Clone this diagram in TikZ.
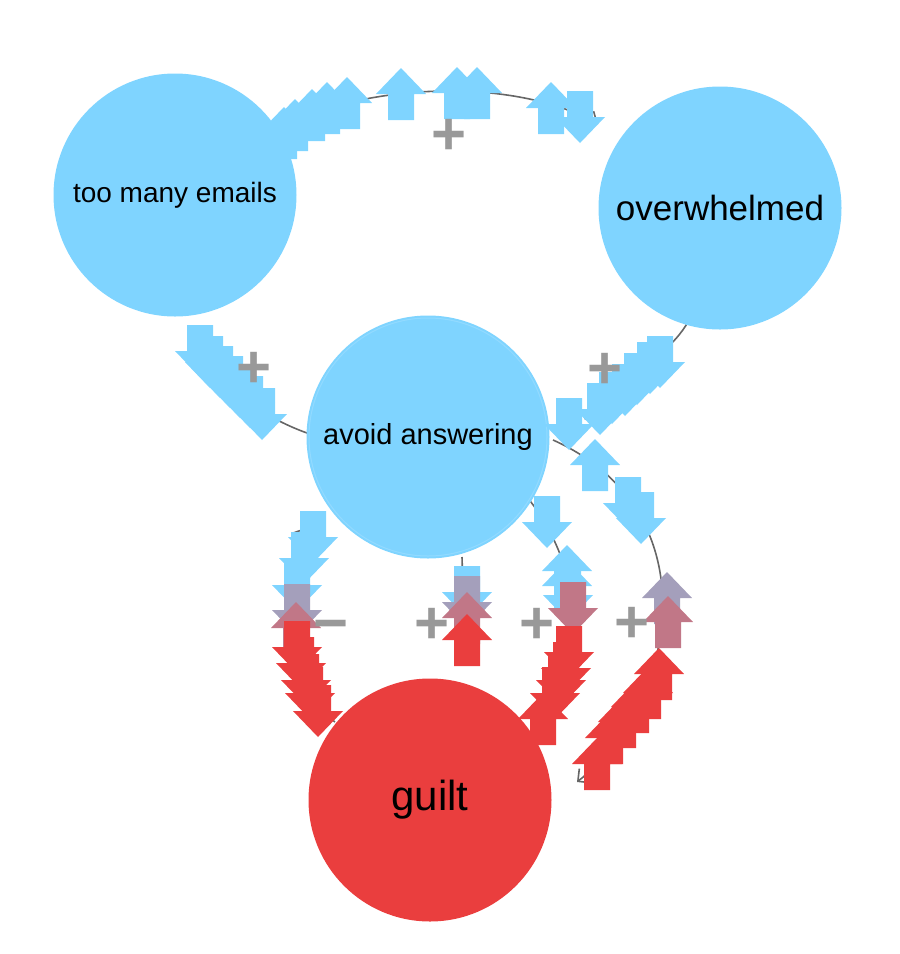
\documentclass[tikz,border=0pt]{standalone}
\usepackage{fontspec}
\setmainfont{Liberation Sans}
\usetikzlibrary{arrows.meta,calc}
\definecolor{nblue}{HTML}{7FD4FF}
\definecolor{nred}{HTML}{EA3E3E}
\definecolor{edgec}{HTML}{666666}
\definecolor{labc}{HTML}{999999}
\colorlet{bla}{nred!35!nblue}
\colorlet{blb}{nred!62!nblue}
\tikzset{
  uparr/.pic={\fill[#1] (-25,0) -- (0,-26) -- (25,0) -- (13,0) -- (13,26) -- (-13,26) -- (-13,0) -- cycle;},
  dnarr/.pic={\fill[#1] (-25,0) -- (0,26) -- (25,0) -- (13,0) -- (13,-26) -- (-13,-26) -- (-13,0) -- cycle;},
  nodecirc/.style={circle, inner sep=0pt, minimum size=243pt, text=black},
  edgeline/.style={draw=edgec, line width=1.6pt, -{Straight Barb[length=9pt,width=18pt,line width=1.6pt]}},
  lab/.style={text=labc, font=\fontsize{60}{60}\selectfont\bfseries, inner sep=0pt, anchor=base},
}
\newcommand\UA[3]{\pic at (#1,#2) {uparr=#3};}
\newcommand\DA[3]{\pic at (#1,#2) {dnarr=#3};}
\begin{document}
\begin{tikzpicture}[x=1pt,y=-1pt]
\useasboundingbox (0,0) rectangle (900,954);
% nodes (positions)
\coordinate (cE) at (175,195);
\coordinate (cO) at (720,208);
\coordinate (cA) at (428,437);
\coordinate (cG) at (430,800);
% edges
\draw[edgeline] ($(cE)+(108,-70)$) .. controls (380,80) and (520,80) .. ($(cO)+(-122,-84)$);
\draw[edgeline] ($(cA)+(-121,-4)$) .. controls (265,418) and (215,385) .. ($(cE)+(15,150)$);
\draw[edgeline] ($(cO)+(-32,114)$) .. controls (660,370) and (600,380) .. ($(cA)+(157,-17)$);
\draw[edgeline] ($(cG)+(-95,-78)$) .. controls (280,680) and (280,580) .. ($(cA)+(-123,91)$);
\draw[edgeline] ($(cA)+(34,120)$) .. controls (463,590) and (465,620) .. ($(cG)+(35,-145)$);
\draw[edgeline] ($(cA)+(99,60)$) .. controls (578,560) and (590,650) .. ($(cG)+(118,-88)$);
\draw[edgeline] ($(cA)+(125,3)$) .. controls (710,510) and (680,700) .. ($(cG)+(147,-18)$);
% circles
\node[nodecirc, fill=nblue, font=\fontsize{28}{30}\selectfont] (emails) at (cE) {too many emails};
\node[nodecirc, fill=nblue, font=\fontsize{35}{37}\selectfont] (ovw) at (cO) {overwhelmed};
\node[nodecirc, fill=nblue, font=\fontsize{29}{31}\selectfont] (avoid) at (cA) {avoid answering};
\draw[white, opacity=0.15, line width=1pt] (avoid.center) circle (119pt);
\node[nodecirc, fill=nred, font=\fontsize{42}{44}\selectfont] (guilt) at (cG) {guilt};
% signals: top edge
\UA{284}{133}{nblue}\UA{295}{125}{nblue}\UA{312}{115}{nblue}\UA{327}{108}{nblue}\UA{347}{103}{nblue}
\UA{401}{94}{nblue}\UA{457}{93}{nblue}\UA{477}{93}{nblue}\UA{551}{108}{nblue}\DA{580}{117}{nblue}
% signals: avoid -> emails
\DA{200}{351}{nblue}\DA{210}{362}{nblue}\DA{220}{372}{nblue}\DA{230}{382}{nblue}\DA{240}{392}{nblue}\DA{250}{402}{nblue}\DA{262}{414}{nblue}
% signals: overwhelmed -> avoid
\DA{660}{362}{nblue}\DA{650}{368}{nblue}\DA{637}{379}{nblue}\DA{625}{390}{nblue}\DA{612}{398}{nblue}\DA{600}{409}{nblue}\DA{569}{424}{nblue}
% signals: minus edge
\DA{313}{537}{nblue}\DA{304}{558}{nblue}\DA{297}{585}{nblue}\DA{297}{610}{bla}\UA{296}{628}{blb}
\DA{297}{647}{nred}\DA{301}{663}{nred}\DA{306}{680}{nred}\DA{310}{693}{nred}\DA{318}{711}{nred}
% signals: middle edge
\DA{467}{592}{nblue}\DA{467}{602}{bla}\UA{467}{618}{blb}\UA{467}{640}{nred}
% signals: third edge
\DA{547}{522}{nblue}\UA{567}{571}{nblue}\UA{567}{586}{nblue}\DA{568}{595}{nblue}\DA{573}{608}{blb}
\DA{569}{652}{nred}\DA{566}{668}{nred}\DA{561}{680}{nred}\DA{555}{693}{nred}\UA{543}{719}{nred}
% signals: fourth edge
\UA{595}{465}{nblue}\DA{628}{503}{nblue}\DA{641}{518}{nblue}\UA{667}{598}{bla}\UA{668}{622}{blb}
\UA{659}{674}{nred}\UA{648}{693}{nred}\UA{636}{707}{nred}\UA{623}{722}{nred}\UA{610}{738}{nred}\UA{597}{764}{nred}
% labels
\node[lab] (l1) at (449,154) {+};
\node[lab] (l2) at (254,387) {+};
\node[lab] (l3) at (605,388) {+};
\node[lab] (l4) at (331,643) {−};
\node[lab] (l5) at (432,643) {+};
\node[lab] (l6) at (537,643) {+};
\node[lab] (l7) at (632,642) {+};
\end{tikzpicture}
\end{document}
